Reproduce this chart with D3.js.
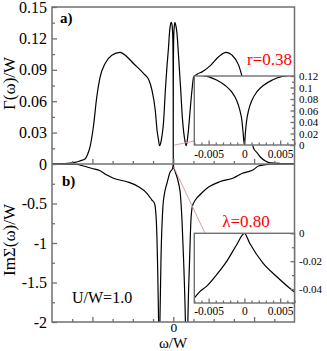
<!DOCTYPE html>
<html>
<head>
<meta charset="utf-8">
<script src="https://cdn.jsdelivr.net/npm/d3@7"></script>
<style>
body { margin: 0; background: #fff; }
svg { display: block; }
text { font-family: "Liberation Serif", "Times New Roman", serif; }
</style>
</head>
<body>
<svg></svg>
<script>
// panel a) Gamma(w)/W, main curve
let gammaW = [-1.5, -1.34, -1.215, -1.153, -1.091, -1.06, -1.029, -0.988, -0.946, -0.905, -0.843, -0.76, -0.657, -0.58, -0.492, -0.368, -0.3, -0.264, -0.223, -0.2, -0.182, -0.17, -0.155, -0.137, -0.12, -0.098, -0.078, -0.058, -0.05, -0.037, -0.025, -0.015, -0.009, -0.0058, -0.0039, -0.0027, -0.0018, -0.0011, -0.0006, -0.0002, 0,
              0.00015, 0.0006, 0.0011, 0.0018, 0.0027, 0.0039, 0.0058, 0.009, 0.015, 0.021, 0.033, 0.046, 0.06, 0.074, 0.093, 0.112, 0.13, 0.145, 0.161, 0.176, 0.19, 0.202, 0.232, 0.252, 0.3, 0.356, 0.459, 0.562, 0.653, 0.728, 0.809, 0.852, 0.9, 0.95, 0.992, 1.041, 1.078, 1.14, 1.202, 1.326, 1.5]
let gammaV = [0.0003, 0.0005, 0.0015, 0.003, 0.0048, 0.009, 0.0165, 0.0356, 0.064, 0.083, 0.096, 0.104, 0.1067, 0.103, 0.096, 0.0866, 0.08, 0.0707, 0.0516, 0.032, 0.0229, 0.0175, 0.02, 0.028, 0.04, 0.07, 0.093, 0.112, 0.122, 0.132, 0.1353, 0.133, 0.127, 0.121, 0.113, 0.104, 0.093, 0.078, 0.061, 0.023, 0,
              0.023, 0.061, 0.078, 0.093, 0.104, 0.113, 0.121, 0.127, 0.133, 0.1353, 0.132, 0.125, 0.11, 0.093, 0.07, 0.045, 0.03, 0.022, 0.0175, 0.024, 0.034, 0.045, 0.0707, 0.083, 0.086, 0.088, 0.094, 0.1025, 0.1067, 0.104, 0.0945, 0.0834, 0.068, 0.04, 0.0153, 0.0105, 0.0067, 0.0029, 0.001, 0.0005, 0.0003]

// panel a) inset, zoom on w = 0
let gammaInsetW = [-0.0075, -0.00583, -0.00506, -0.00389, -0.00273, -0.0018, -0.0011, -0.00065, -0.00033, -0.00019, 0, 0.00015, 0.00029, 0.0006, 0.00106, 0.00176, 0.00269, 0.0039, 0.00515, 0.0063, 0.0075]
let gammaInsetV = [0.126, 0.121, 0.119, 0.113, 0.104, 0.0927, 0.078, 0.061, 0.0405, 0.023, 0, 0.023, 0.0405, 0.061, 0.078, 0.0927, 0.104, 0.113, 0.119, 0.121, 0.125]

// panel b) Im Sigma(w)/W, three branches between the poles
let sigmaLeftW = [-1.5, -1.34, -1.19, -1.112, -1.004, -0.905, -0.82, -0.74, -0.574, -0.43, -0.326, -0.264, -0.232, -0.223, -0.202, -0.195, -0.182, -0.178]
let sigmaLeftV = [0, -0.001, -0.006, -0.025, -0.057, -0.085, -0.14, -0.181, -0.224, -0.287, -0.371, -0.456, -0.5, -0.54, -0.92, -1.215, -1.94, -2.3]
let sigmaMidW = [-0.172, -0.164, -0.152, -0.128, -0.108, -0.078, -0.037, -0.012, -0.006, -0.002, 0, 0.002, 0.006, 0.012, 0.025, 0.066, 0.087, 0.108, 0.128, 0.149, 0.156]
let sigmaMidV = [-2.3, -1.94, -1.22, -0.54, -0.37, -0.245, -0.098, -0.065, -0.045, -0.02, 0, -0.018, -0.042, -0.062, -0.101, -0.244, -0.371, -0.709, -1.215, -1.93, -2.3]
let sigmaRightW = [0.176, 0.182, 0.202, 0.219, 0.236, 0.273, 0.34, 0.421, 0.583, 0.744, 0.855, 0.93, 0.995, 1.054, 1.14, 1.227, 1.5]
let sigmaRightV = [-2.3, -1.93, -1.215, -0.709, -0.54, -0.456, -0.38, -0.304, -0.222, -0.177, -0.117, -0.097, -0.07, -0.025, -0.008, -0.002, 0]

// panel b) inset
let sigmaInsetW = [-0.0072, -0.007, -0.0062, -0.0053, -0.0039, -0.0025, -0.0011, 0, 0.00074, 0.0026, 0.0045, 0.0063, 0.0072]
let sigmaInsetV = [-0.0475, -0.0464, -0.0417, -0.0381, -0.0298, -0.0203, -0.0084, 0, -0.0071, -0.0214, -0.031, -0.0393, -0.043]

// ticks
let gammaTicks = [0, 0.03, 0.06, 0.09, 0.12, 0.15]
let gammaTickLabels = ['0', '0.03', '0.06', '0.09', '0.12', '0.15']
let gammaMinor = [0.015, 0.045, 0.075, 0.105, 0.135]
let sigmaTicks = [-2, -1.5, -1, -0.5]
let sigmaTickLabels = ['-2', '-1.5', '-1', '-0.5']
let sigmaMinor = [-1.75, -1.25, -0.75, -0.25]
let wTicks = [-1, 0, 1]
let wLabelTicks = [0]
let wLabels = ['0']
let wMinor = [-1.25, -0.75, -0.5, -0.25, 0.25, 0.5, 0.75, 1.25]
let insetWTicks = [-0.005, 0, 0.005]
let insetWLabels = ['-0.005', '0', '0.005']
let insetWMinor = [-0.007, -0.006, -0.004, -0.003, -0.002, -0.001, 0.001, 0.002, 0.003, 0.004, 0.006, 0.007]
let insetATicks = [0, 0.02, 0.04, 0.06, 0.08, 0.1, 0.12]
let insetALabels = ['0', '0.02', '0.04', '0.06', '0.08', '0.1', '0.12']
let insetAMinor = [0.01, 0.03, 0.05, 0.07, 0.09, 0.11]
let insetBTicks = [-0.04, -0.02, 0]
let insetBLabels = ['-0.04', '-0.02', '0']
let insetBMinor = [-0.05, -0.03, -0.01]

let width = 327
let height = 351
let plotLeft = 52, plotRight = 294.5, plotTop = 7, plotMid = 164, plotBottom = 322
let inLeft = 194.3
let inATop = 76, inABottom = 145
let inBTop = 233.3, inBBottom = 303
let axisColor = '#707070'
let pink = '#d9a3a3'

let svg = d3.select('svg').attr('width', width).attr('height', height)

let xScale = d3.scaleLinear().domain([-1.5, 1.5]).range([plotLeft, plotRight])
let yScaleA = d3.scaleLinear().domain([0, 0.15]).range([plotMid, plotTop])
let yScaleB = d3.scaleLinear().domain([-2, 0]).range([plotBottom, plotMid])
let xInset = d3.scaleLinear().domain([-0.007, 0.007]).range([inLeft, plotRight])
let yInsetA = d3.scaleLinear().domain([0, 0.12]).range([inABottom, inATop])
let yInsetB = d3.scaleLinear().domain([-0.05, 0]).range([inBBottom, inBTop])

let defs = svg.append('defs')
let addClip = (id, x, y, w, h) => {
    defs.append('clipPath').attr('id', id)
        .append('rect').attr('x', x).attr('y', y).attr('width', w).attr('height', h)
}
addClip('clipA', plotLeft, plotTop, plotRight - plotLeft, plotMid - plotTop)
addClip('clipB', plotLeft, plotMid, plotRight - plotLeft, plotBottom - plotMid)
addClip('clipIA', inLeft, inATop, plotRight - inLeft, inABottom - inATop)
addClip('clipIB', inLeft, inBTop, plotRight - inLeft, inBBottom - inBTop)

let drawCurve = (ws, vs, xs, ys, clip) => {
    let pts = ws.map((w, i) => [w, vs[i]])
    let line = d3.line().x(d => xs(d[0])).y(d => ys(d[1])).curve(d3.curveMonotoneX)
    svg.append('path')
        .datum(pts)
        .attr('clip-path', 'url(#' + clip + ')')
        .attr('fill', 'none')
        .attr('stroke', '#000')
        .attr('stroke-width', 1.2)
        .attr('d', line)
}

let drawAxis = (axis, tx, ty, size) => {
    let g = svg.append('g')
        .attr('transform', 'translate(' + tx + ',' + ty + ')')
        .call(axis)
    g.select('.domain').remove()
    g.selectAll('.tick line').attr('stroke', axisColor).attr('stroke-width', 1.3)
    g.selectAll('.tick text')
        .attr('fill', '#000')
        .style('font-family', '"Liberation Serif", "Times New Roman", serif')
        .style('font-size', size + 'px')
    return g
}

// main curves
drawCurve(gammaW, gammaV, xScale, yScaleA, 'clipA')
drawCurve(sigmaLeftW, sigmaLeftV, xScale, yScaleB, 'clipB')
drawCurve(sigmaMidW, sigmaMidV, xScale, yScaleB, 'clipB')
drawCurve(sigmaRightW, sigmaRightV, xScale, yScaleB, 'clipB')

// main axes
drawAxis(d3.axisLeft(yScaleA).tickValues(gammaTicks).tickFormat((d, i) => gammaTickLabels[i]).tickSize(-5).tickPadding(5), plotLeft, 0, 16)
drawAxis(d3.axisLeft(yScaleA).tickValues(gammaMinor).tickFormat('').tickSize(-3), plotLeft, 0, 16)
drawAxis(d3.axisLeft(yScaleB).tickValues(sigmaTicks).tickFormat((d, i) => sigmaTickLabels[i]).tickSize(-5).tickPadding(5), plotLeft, 0, 16)
drawAxis(d3.axisLeft(yScaleB).tickValues(sigmaMinor).tickFormat('').tickSize(-3), plotLeft, 0, 16)
drawAxis(d3.axisBottom(xScale).tickValues(wTicks).tickFormat('').tickSize(-5), 0, plotMid, 16)
drawAxis(d3.axisBottom(xScale).tickValues(wMinor).tickFormat('').tickSize(-3), 0, plotMid, 16)
drawAxis(d3.axisBottom(xScale).tickValues(wTicks).tickFormat('').tickSize(-5), 0, plotBottom, 16)
drawAxis(d3.axisBottom(xScale).tickValues(wLabelTicks).tickFormat((d, i) => wLabels[i]).tickSize(0).tickPadding(0), 0, plotBottom, 13.5)
drawAxis(d3.axisBottom(xScale).tickValues(wMinor).tickFormat('').tickSize(-3), 0, plotBottom, 16)

// frames
svg.append('rect').attr('x', plotLeft).attr('y', plotTop).attr('width', plotRight - plotLeft).attr('height', plotBottom - plotTop)
    .attr('fill', 'none').attr('stroke', axisColor).attr('stroke-width', 1.5)
svg.append('line').attr('x1', plotLeft).attr('x2', plotRight).attr('y1', plotMid).attr('y2', plotMid)
    .attr('stroke', axisColor).attr('stroke-width', 1.5)

// zoom guide lines
svg.append('line')
    .attr('x1', xScale(0.012)).attr('y1', yScaleA(0.018))
    .attr('x2', xInset(-0.007)).attr('y2', yInsetA(0.007))
    .attr('stroke', pink).attr('stroke-width', 1)
svg.append('line')
    .attr('x1', xScale(0.004)).attr('y1', yScaleB(-0.034))
    .attr('x2', xInset(-0.0055)).attr('y2', yInsetB(0))
    .attr('stroke', pink).attr('stroke-width', 1)

// insets
let drawInset = (yT, yB, ys, ws, vs, clip, yTicks, yLabels, yMinor, labelPad) => {
    svg.append('rect').attr('x', inLeft).attr('y', yT).attr('width', plotRight - inLeft).attr('height', yB - yT)
        .attr('fill', '#fff')
    drawCurve(ws, vs, xInset, ys, clip)
    drawAxis(d3.axisBottom(xInset).tickValues(insetWTicks).tickFormat((d, i) => insetWLabels[i]).tickSize(-4.5).tickPadding(labelPad), 0, yB, 11.5)
    drawAxis(d3.axisBottom(xInset).tickValues(insetWMinor).tickFormat('').tickSize(-2.5), 0, yB, 11.5)
    drawAxis(d3.axisRight(ys).tickValues(yTicks).tickFormat((d, i) => yLabels[i]).tickSize(-4).tickPadding(4.5), plotRight, 0, 11)
    drawAxis(d3.axisRight(ys).tickValues(yMinor).tickFormat('').tickSize(-2.5), plotRight, 0, 11)
    svg.append('rect').attr('x', inLeft).attr('y', yT).attr('width', plotRight - inLeft).attr('height', yB - yT)
        .attr('fill', 'none').attr('stroke', axisColor).attr('stroke-width', 1.4)
}
drawInset(inATop, inABottom, yInsetA, gammaInsetW, gammaInsetV, 'clipIA', insetATicks, insetALabels, insetAMinor, 5)
drawInset(inBTop, inBBottom, yInsetB, sigmaInsetW, sigmaInsetV, 'clipIB', insetBTicks, insetBLabels, insetBMinor, 3.5)

// texts
let addText = (str, x, y, size, opts) => {
    let t = svg.append('text').attr('x', x).attr('y', y).text(str)
        .style('font-size', size + 'px').attr('fill', (opts && opts.fill) || '#000')
    if (opts && opts.anchor) t.attr('text-anchor', opts.anchor)
    if (opts && opts.bold) t.style('font-weight', 'bold')
    if (opts && opts.rotate) t.attr('transform', 'rotate(-90,' + x + ',' + y + ')')
    return t
}
addText('Γ(ω)/W', 15, 83.5, 17, {anchor: 'middle', rotate: true})
addText('ImΣ(ω)/W', 15, 240, 17, {anchor: 'middle', rotate: true})
addText('ω/W', 173, 347.7, 15, {anchor: 'middle'})
addText('a)', 60, 23, 15, {bold: true})
addText('b)', 62, 186, 15, {bold: true})
addText('U/W=1.0', 72, 303, 16)
addText('r=0.38', 292, 65, 17, {anchor: 'end', fill: '#ff0000'})
addText('λ=0.80', 246, 226.5, 17, {anchor: 'middle', fill: '#ff0000'})
</script>
</body>
</html>
